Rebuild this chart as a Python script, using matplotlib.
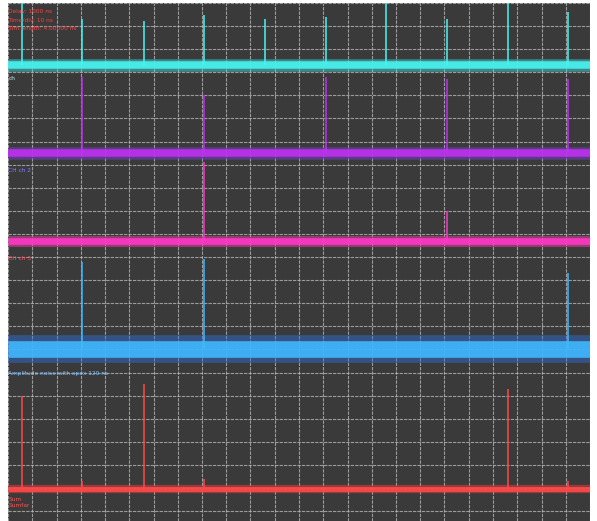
import matplotlib.pyplot as plt
import numpy as np

# time axis in ns (24 div x 10 ns), vertical in divisions (22 div)
spike_t = [5.8, 30.5, 56.0, 81.0, 106.0, 131.0, 156.0, 181.0, 206.0, 231.0]

cyan_base = 19.3
cyan_peak = [22.0, 21.3, 21.2, 21.5, 21.3, 21.4, 22.0, 21.3, 22.0, 21.6]

purple_base = 15.5
purple_t = [30.5, 81.0, 131.0, 181.0, 231.0]
purple_peak = [18.8, 18.0, 18.8, 18.7, 18.7]

pink_base = 11.7
pink_t = [81.0, 181.0]
pink_peak = [15.1, 13.0]

blue_base = 7.0
blue_t = [30.5, 81.0, 231.0]
blue_peak = [10.8, 10.9, 10.3]

red_base = 0.95
red_t = [5.8, 30.5, 56.0, 81.0, 206.0, 231.0]
red_peak = [5.0, 1.3, 5.5, 1.4, 5.3, 1.3]

header = ["Delay: 1000 ns", "Time/div: 10 ns", "Sim.length: 4.00000 ns"]

BG = '#3a3a3a'
W, H = 597, 521
fig = plt.figure(figsize=(W/100, H/100), dpi=100)
fig.patch.set_facecolor('white')
ax = fig.add_axes([8/W, 0/H, 582/W, 518/H])
ax.set_facecolor(BG)
ax.set_xlim(0, 240)
ax.set_ylim(-0.43, 22.0)

for t in np.arange(0, 241, 10):
    ax.axvline(t, color='#bdbdbd', lw=0.8, ls=(0, (3, 1)), alpha=0.75, zorder=1)
for y in range(0, 23):
    ax.axhline(y, color='#bdbdbd', lw=0.8, ls=(0, (3, 1)), alpha=0.75, zorder=1)


def trace(base, band, t, peaks, color, core):
    ax.vlines(t, base, peaks, color=core, lw=1.3, alpha=0.85, zorder=3)
    ax.plot([0, 240], [base, base], color=color, lw=band, alpha=0.45, zorder=2,
            solid_capstyle='butt')
    ax.plot([0, 240], [base, base], color=core, lw=band*0.6, alpha=0.9,
            zorder=4, solid_capstyle='butt')


trace(cyan_base, 9, spike_t, cyan_peak, '#3fe8e8', '#48f4f0')
trace(purple_base, 9, purple_t, purple_peak, '#8040e0', '#c030f0')
trace(pink_base, 8, pink_t, pink_peak, '#ff40b0', '#ff38c8')
trace(blue_base, 20, blue_t, blue_peak, '#3070e0', '#40b8ff')
trace(red_base, 6, red_t, red_peak, '#ff4040', '#ff4848')

for i, s in enumerate(header):
    ax.text(0.15, 21.75 - i*0.38, s, color='#ff4040', fontsize=4.2, va='top',
            zorder=6)
ax.text(0.2, 18.85, "ch", color='#d0f0ff', fontsize=4.2, va='top', zorder=6)
ax.text(0.2, 14.85, "CH ch 2", color='#8080ff', fontsize=4.2, va='top', zorder=6)
ax.text(0.2, 11.05, "CH ch 3", color='#ff5060', fontsize=4.2, va='top', zorder=6)
ax.text(0.2, 6.05, "Amplitude noise with apex 120 ns", color='#80c0ff',
        fontsize=4.2, va='top', zorder=6)
ax.text(0.2, 0.6, "Sum\nSumfar", color='#ff5050', fontsize=4.2, va='top',
        linespacing=1.1, zorder=6)

ax.set_xticks([])
ax.set_yticks([])
for sp in ax.spines.values():
    sp.set_visible(False)

fig.savefig('out.png', dpi=100, facecolor='white')
